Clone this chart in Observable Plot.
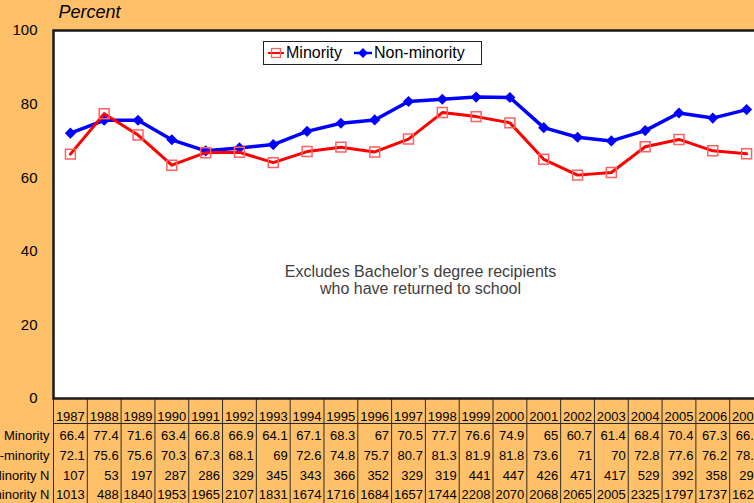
<!DOCTYPE html>
<html><head><meta charset="utf-8">
<script src="https://cdn.jsdelivr.net/npm/d3@7"></script>
<script src="https://cdn.jsdelivr.net/npm/@observablehq/plot@0.6"></script>
<style>
html,body{margin:0;padding:0;overflow:hidden;background:#FEC068;}
#wrap{position:relative;width:754px;height:503px;overflow:hidden;}
#wrap > svg{display:block;max-width:none !important;width:770px;height:503px;}
#legend{position:absolute;left:263px;top:41px;width:219px;height:24px;background:#fff;border:1px solid #222;box-sizing:border-box;
 font:16px "Liberation Sans",Arial,sans-serif;color:#000;display:flex;align-items:center;padding-left:3px;white-space:nowrap;}
#legend .item{display:flex;align-items:center;margin-right:5px;}
#legend svg{margin-right:1px;}
</style></head><body><div id="wrap"></div>
<script>
const years = [1987,1988,1989,1990,1991,1992,1993,1994,1995,1996,1997,1998,1999,2000,2001,2002,2003,2004,2005,2006,2007];
const minority = [66.4,77.4,71.6,63.4,66.8,66.9,64.1,67.1,68.3,67,70.5,77.7,76.6,74.9,65,60.7,61.4,68.4,70.4,67.3,66.5];
const nonMinority = [72.1,75.6,75.6,70.3,67.3,68.1,69,72.6,74.8,75.7,80.7,81.3,81.9,81.8,73.6,71,70,72.8,77.6,76.2,78.5];
const minorityN = [107,53,197,287,286,329,345,343,366,352,329,319,441,447,426,471,417,529,392,358,295];
const nonMinorityN = [1013,488,1840,1953,1965,2107,1831,1674,1716,1684,1657,1744,2208,2070,2068,2065,2005,2325,1797,1737,1625];
const rowLabels = ["Minority","Non-minority","Minority N","Non-minority N"];
const yTicks = [0,20,40,60,80,100];
const seriesNames = ["Minority","Non-minority"];
const note = "Excludes Bachelor\u2019s degree recipients\nwho have returned to school";

const bounds = [years[0]-0.5, ...years.map(y => y + 0.5)];
const rows = [minority, nonMinority, minorityN, nonMinorityN];
const rowDy = [37.5, 57, 77, 96.5];
const font = '"Liberation Sans", Arial, sans-serif';

const tableMarks = [];
tableMarks.push(Plot.text(years, {x: d => d + 0.5, text: d => String(d), frameAnchor: "bottom", lineAnchor: "middle", dy: 18.5, dx: -2.5, textAnchor: "end", fontSize: 13, fill: "#000"}));
rows.forEach((vals, r) => {
  tableMarks.push(Plot.text(years, {x: d => d + 0.5, text: (d, i) => String(vals[i]), frameAnchor: "bottom", lineAnchor: "middle", dy: rowDy[r], dx: -2.5, textAnchor: "end", fontSize: 13, fill: "#000"}));
  tableMarks.push(Plot.text([rowLabels[r]], {frameAnchor: "bottom-left", lineAnchor: "middle", dy: rowDy[r], dx: -4, textAnchor: "end", fontSize: 13, fill: "#000"}));
});

const chart = Plot.plot({
  width: 770, height: 503,
  marginLeft: 53, marginRight: 7, marginTop: 30, marginBottom: 105,
  style: {background: "#FEC068", fontFamily: font, color: "#000", overflow: "visible", maxWidth: "none"},
  x: {domain: [bounds[0], bounds[bounds.length-1]], axis: null},
  y: {domain: [0, 100], axis: null},
  marks: [
    Plot.frame({fill: "white"}),
    Plot.axisY(yTicks, {tickSize: 0, tickPadding: 16, fontSize: 15, tickFormat: d => String(d), label: null}),
    Plot.text(["Percent"], {frameAnchor: "top-left", lineAnchor: "middle", dx: 5, dy: -18, fontStyle: "italic", fontSize: 18, textAnchor: "start", fill: "#000"}),
    Plot.axisX(bounds, {anchor: "bottom", tickSize: 105, tickFormat: () => "", stroke: "#2a2a2a", label: null}),
    Plot.ruleY([0], {dy: 25, stroke: "#2a2a2a"}),
    ...tableMarks,
    Plot.text([note], {frameAnchor: "middle", dx: 12, dy: 66, fontSize: 16, fill: "#404040", lineHeight: 1.05}),
    Plot.line(years, {x: d => d, y: (d, i) => nonMinority[i], stroke: "#0000FF", strokeWidth: 3.5}),
    Plot.dot(years, {x: d => d, y: (d, i) => nonMinority[i], symbol: "diamond2", r: 5, fill: "#0000FF", stroke: "none"}),
    Plot.line(years, {x: d => d, y: (d, i) => minority[i], stroke: "#FF0000", strokeWidth: 3}),
    Plot.dot(years, {x: d => d, y: (d, i) => minority[i], symbol: "square", r: 5.6, fill: "none", stroke: "#FF6060", strokeWidth: 1.5}),
    Plot.frame({stroke: "#1a1a1a", strokeWidth: 2.5})
  ]
});
const wrap = document.getElementById("wrap");
wrap.appendChild(chart);

const legend = document.createElement("div");
legend.id = "legend";
legend.innerHTML =
  `<span class="item"><svg width="18" height="14"><line x1="1" x2="17" y1="7" y2="7" stroke="#FF0000" stroke-width="2"/><rect x="4.5" y="2.5" width="9" height="9" fill="none" stroke="#FF6060" stroke-width="1.3"/></svg>${seriesNames[0]}</span>` +
  `<span class="item" style="margin-left:6px"><svg width="20" height="14"><line x1="1" x2="19" y1="7" y2="7" stroke="#0000FF" stroke-width="2.5"/><path d="M10 2 L15 7 L10 12 L5 7 Z" fill="#0000FF"/></svg>${seriesNames[1]}</span>`;
wrap.appendChild(legend);
</script></body></html>
